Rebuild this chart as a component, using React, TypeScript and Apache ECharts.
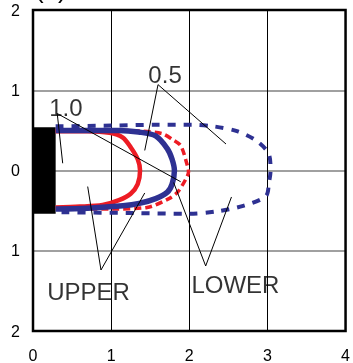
import React, { useEffect, useRef } from "react";
import * as echarts from "echarts";

const xTicks = [0, 1, 2, 3, 4];
const yTicks = [-2, -1, 0, 1, 2];

const plateRect: [number, number][] = [[0, 0.54], [0.29, -0.54]];

const solidBlue: [number, number][] = [
  [0.29, 0.5], [0.7, 0.5], [1.1, 0.5], [1.35, 0.48], [1.57, 0.43], [1.72, 0.27], [1.78, 0.14],
  [1.81, 0], [1.78, -0.17], [1.72, -0.27], [1.57, -0.35], [1.36, -0.41], [1.15, -0.44],
  [0.7, -0.47], [0.29, -0.48],
];
const solidRed: [number, number][] = [
  [0.29, 0.49], [0.7, 0.49], [0.98, 0.47], [1.15, 0.41], [1.25, 0.29], [1.34, 0.14], [1.37, 0],
  [1.34, -0.17], [1.25, -0.29], [1.1, -0.37], [0.89, -0.43], [0.6, -0.45], [0.29, -0.46],
];
const dashedRed: [number, number][] = [
  [0.29, 0.5], [1.0, 0.5], [1.4, 0.49], [1.65, 0.46], [1.78, 0.39], [1.89, 0.31], [1.97, 0.08],
  [1.99, -0.02], [1.96, -0.1], [1.85, -0.27], [1.74, -0.35], [1.46, -0.46], [1.0, -0.48],
  [0.29, -0.48],
];
const dashedBlue: [number, number][] = [
  [0.29, 0.55], [1.0, 0.56], [1.6, 0.57], [2.03, 0.57], [2.31, 0.55], [2.61, 0.49], [2.86, 0.37],
  [3.02, 0.2], [3.04, 0], [3.02, -0.15], [2.98, -0.32], [2.69, -0.44], [2.35, -0.51],
  [1.99, -0.54], [1.3, -0.53], [0.29, -0.52],
];

const leaders: [number, number][][] = [
  [[0.38, 0.09], [0.31, 0.71], [1.89, -0.14]],
  [[1.43, 0.25], [1.6, 1.07], [2.47, 0.33]],
  [[0.7, -0.2], [0.87, -1.24], [1.43, -0.28]],
  [[1.8, -0.15], [2.21, -1.19], [2.54, -0.33]],
];
const labelNames = ["1.0", "0.5", "UPPER", "LOWER"];
const labelPos: [number, number][] = [[0.42, 0.78], [1.69, 1.2], [0.71, -1.51], [2.59, -1.42]];

const BLUE = "#2E3192";
const RED = "#ED1C24";
const FONT = "Liberation Sans, Arial, sans-serif";

export default function App() {
  const ref = useRef<HTMLDivElement>(null);
  useEffect(() => {
    document.body.style.margin = "0";
    if (!ref.current) return;
    const chart = echarts.init(ref.current, undefined, { renderer: "svg" });
    const curve = (data: [number, number][], color: string, width: number, type: any, z: number) => ({
      type: "line",
      data,
      smooth: 0.3,
      showSymbol: false,
      symbol: "none",
      z,
      lineStyle: { color, width, type, cap: "butt" },
    });
    chart.setOption({
      animation: false,
      textStyle: { fontFamily: FONT },
      graphic: [
        {
          type: "text",
          left: 35,
          top: -24,
          style: { text: "(a)", fontSize: 26, fontFamily: FONT, fill: "#000" },
        },
      ],
      grid: { left: 33, top: 10, right: 5, bottom: 30, show: true, borderColor: "#000", borderWidth: 2.5, z: 10 },
      xAxis: {
        type: "value",
        min: xTicks[0],
        max: xTicks[xTicks.length - 1],
        interval: 1,
        axisLine: { show: false },
        axisTick: { show: false },
        axisLabel: { fontSize: 16, color: "#000", margin: 16, fontFamily: FONT },
        splitLine: { show: true, lineStyle: { color: "#000", width: 1 } },
      },
      yAxis: {
        type: "value",
        min: yTicks[0],
        max: yTicks[yTicks.length - 1],
        interval: 1,
        axisLine: { show: false },
        axisTick: { show: false },
        axisLabel: {
          fontSize: 16,
          color: "#000",
          margin: 13,
          fontFamily: FONT,
          formatter: (v: number) => String(Math.abs(v)),
        },
        splitLine: { show: true, lineStyle: { color: "#808080", width: 1.5 } },
      },
      series: [
        {
          type: "line",
          data: [],
          markArea: {
            silent: true,
            itemStyle: { color: "#000", opacity: 1 },
            data: [[{ coord: plateRect[0] }, { coord: plateRect[1] }]],
          },
        },
        ...leaders.map((l) => ({
          type: "line",
          data: l,
          showSymbol: false,
          symbol: "none",
          z: 5,
          lineStyle: { color: "#000", width: 1 },
        })),
        curve(solidRed, RED, 4.5, "solid", 3),
        curve(dashedRed, RED, 3.5, [7, 4], 3),
        curve(solidBlue, BLUE, 5.5, "solid", 4),
        curve(dashedBlue, BLUE, 4, [8, 8], 4),
        {
          type: "scatter",
          symbolSize: 0,
          z: 6,
          data: labelPos.map((p, i) => ({ value: p, name: labelNames[i] })),
          label: {
            show: true,
            position: "inside",
            formatter: "{b}",
            fontSize: 24,
            color: "#000",
            fontFamily: FONT,
          },
        },
      ],
    });
    return () => chart.dispose();
  }, []);
  return <div ref={ref} style={{ position: "fixed", left: 0, top: 0, width: 353, height: 363 }} />;
}
